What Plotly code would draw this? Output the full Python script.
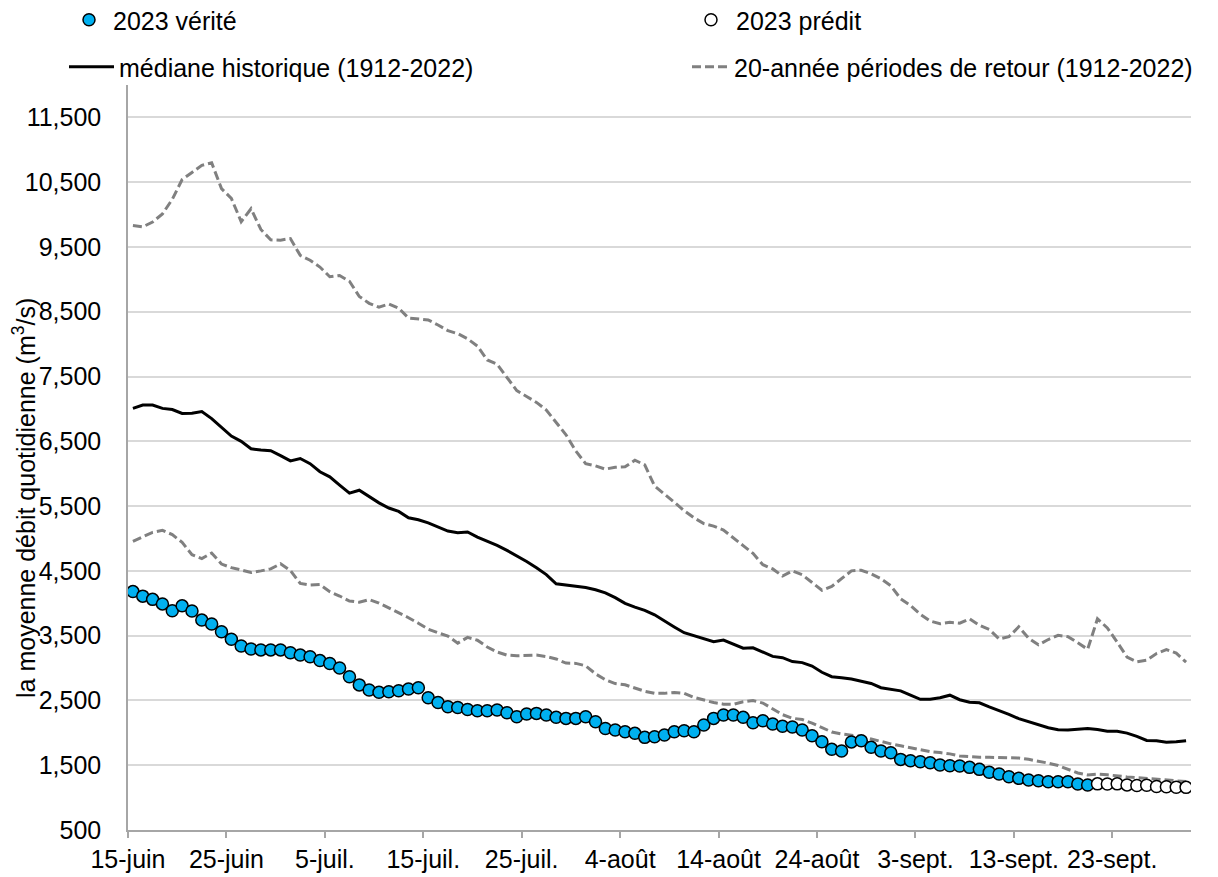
import pandas as pd
import plotly.graph_objects as go

# ---- data ----
dates = pd.date_range("2023-06-15 12:00", periods=108, freq="D")

verite = [4180, 4110, 4060, 3990, 3885, 3960, 3880, 3740, 3680, 3560,
          3445, 3340, 3295, 3280, 3280, 3280, 3235, 3200, 3175, 3115,
          3070, 3000, 2865, 2740, 2660, 2625, 2634, 2650, 2676, 2696,
          2542, 2469, 2402, 2392, 2360, 2340, 2340, 2352, 2310, 2248,
          2290, 2300, 2275, 2239, 2223, 2223, 2248, 2171, 2068, 2043,
          2017, 1992, 1930, 1940, 1966, 2017, 2032, 2017, 2120, 2223,
          2275, 2275, 2239, 2156, 2187, 2136, 2100, 2090, 2043, 1955,
          1863, 1745, 1719, 1860, 1878, 1776, 1719, 1693, 1590, 1570,
          1554, 1539, 1503, 1492, 1488, 1467, 1436, 1390, 1364, 1323,
          1297, 1272, 1261, 1245, 1245, 1245, 1210, 1194]

predit = [1212, 1210, 1212, 1196, 1186, 1192, 1172, 1168, 1160, 1158]

mediane = [7008, 7059, 7059, 7008, 6990, 6930, 6932, 6960, 6850, 6720,
           6580, 6500, 6385, 6364, 6355, 6280, 6197, 6235, 6155, 6030,
           5952, 5825, 5700, 5745, 5650, 5550, 5470, 5418, 5320, 5288,
           5240, 5180, 5115, 5090, 5100, 5020, 4960, 4893, 4817, 4735,
           4645, 4548, 4442, 4300, 4282, 4271, 4242, 4208, 4160, 4087,
           3998, 3940, 3890, 3822, 3722, 3635, 3545, 3499, 3454, 3407,
           3432, 3371, 3306, 3313, 3246, 3180, 3160, 3100, 3084, 3030,
           2935, 2867, 2851, 2830, 2797, 2762, 2696, 2672, 2648, 2582,
           2517, 2517, 2541, 2581, 2511, 2472, 2464, 2400, 2347, 2285,
           2219, 2169, 2128, 2079, 2049, 2043, 2054, 2066, 2051, 2025,
           2024, 1995, 1944, 1882, 1878, 1855, 1862, 1878]

retour_haut = [9830, 9810, 9885, 10010, 10235, 10540, 10650, 10760, 10800, 10400,
               10250, 9890, 10090, 9770, 9610, 9605, 9630, 9370, 9295, 9190,
               9040, 9060, 8970, 8735, 8630, 8570, 8620, 8555, 8403, 8394,
               8374, 8295, 8208, 8162, 8083, 7970, 7755, 7690, 7490, 7282,
               7192, 7100, 6983, 6800, 6600, 6350, 6155, 6120, 6070, 6100,
               6107, 6208, 6136, 5810, 5690, 5560, 5430, 5320, 5230, 5190,
               5130, 5015, 4890, 4770, 4595, 4530, 4420, 4500, 4440, 4320,
               4200, 4260, 4385, 4500, 4510, 4455, 4378, 4270, 4070, 3965,
               3830, 3725, 3683, 3705, 3692, 3760, 3660, 3595, 3450, 3483,
               3637, 3460, 3358, 3440, 3505, 3485, 3390, 3290, 3760, 3620,
               3400, 3170, 3095, 3120, 3225, 3285, 3230, 3090]

retour_bas = [4955, 5025, 5095, 5125, 5060, 4940, 4750, 4690, 4775, 4605,
              4550, 4515, 4474, 4500, 4530, 4610, 4505, 4306, 4281, 4290,
              4178, 4112, 4035, 4015, 4057, 4003, 3929, 3852, 3777, 3692,
              3600, 3544, 3493, 3385, 3473, 3430, 3325, 3248, 3200, 3190,
              3200, 3200, 3176, 3140, 3076, 3072, 3035, 2910, 2820, 2760,
              2741, 2690, 2642, 2609, 2609, 2623, 2610, 2548, 2505, 2467,
              2443, 2440, 2479, 2498, 2460, 2374, 2280, 2225, 2205, 2150,
              2080, 2013, 1982, 1960, 1944, 1905, 1862, 1830, 1800, 1770,
              1740, 1710, 1695, 1675, 1642, 1628, 1622, 1622, 1622, 1622,
              1612, 1591, 1565, 1532, 1495, 1440, 1380, 1350, 1361, 1352,
              1333, 1320, 1310, 1300, 1285, 1272, 1260, 1247]

tick_dates = ["2023-06-15", "2023-06-25", "2023-07-05", "2023-07-15", "2023-07-25",
              "2023-08-04", "2023-08-14", "2023-08-24", "2023-09-03", "2023-09-13",
              "2023-09-23"]
tick_labels = ["15-juin", "25-juin", "5-juil.", "15-juil.", "25-juil.", "4-août",
               "14-août", "24-août", "3-sept.", "13-sept.", "23-sept."]
y_ticks = [500, 1500, 2500, 3500, 4500, 5500, 6500, 7500, 8500, 9500, 10500, 11500]

# ---- styling ----
FONT = "Liberation Sans, Arial, sans-serif"
FS = 25
BLUE = "#00B0F0"
GRAY = "#808080"

n_v = len(verite)
fig = go.Figure()

fig.add_trace(go.Scatter(
    x=dates, y=mediane, mode="lines", name="médiane historique (1912-2022)",
    line=dict(color="black", width=3), legend="legend2"))
fig.add_trace(go.Scatter(
    x=dates, y=retour_haut, mode="lines", name="20-année périodes de retour (1912-2022)",
    line=dict(color=GRAY, width=3, dash="9px,4px"), legend="legend4",
    legendgroup="retour"))
fig.add_trace(go.Scatter(
    x=dates, y=retour_bas, mode="lines", name="20-année périodes de retour (1912-2022)",
    line=dict(color=GRAY, width=3, dash="9px,4px"), legend="legend4",
    legendgroup="retour", showlegend=False))
fig.add_trace(go.Scatter(
    x=dates[:n_v], y=verite, mode="markers", name="2023 vérité",
    marker=dict(size=12, color=BLUE, line=dict(color="black", width=1.5)),
    legend="legend"))
fig.add_trace(go.Scatter(
    x=dates[n_v:], y=predit, mode="markers", name="2023 prédit",
    marker=dict(size=12, color="white", line=dict(color="black", width=1.5)),
    legend="legend3"))

# page body has an 8px margin: the figure starts at (8, 8) in the window
OFF = 8
W, H = 1218 - OFF, 877 - OFF
PL, PT = 128 - OFF, 85 - OFF
PR = 1218 - 1191
PB = 877 - 830
pw, ph = W - PL - PR, H - PT - PB


def px_x(px):
    return (px - OFF - PL) / pw


def px_y(py):
    return (H - PB - (py - OFF)) / ph


leg_common = dict(xanchor="left", yanchor="middle", bgcolor="rgba(0,0,0,0)",
                  borderwidth=0, font=dict(family=FONT, size=FS, color="black"))

fig.update_layout(
    width=W, height=H,
    margin=dict(l=PL, r=PR, t=PT, b=PB, autoexpand=False),
    plot_bgcolor="white", paper_bgcolor="white",
    font=dict(family=FONT, size=FS, color="black"),
    legend=dict(x=px_x(65), y=px_y(20), itemwidth=38, **leg_common),
    legend2=dict(x=px_x(64), y=px_y(67), itemwidth=45, **leg_common),
    legend3=dict(x=px_x(686), y=px_y(20), itemwidth=40, **leg_common),
    legend4=dict(x=px_x(687), y=px_y(67), itemwidth=37, **leg_common),
    xaxis=dict(
        range=["2023-06-15", "2023-10-01"],
        tickvals=tick_dates, ticktext=tick_labels,
        ticks="outside", ticklen=6, tickwidth=1.5, tickcolor="#a6a6a6",
        showline=True, linecolor="#a6a6a6", linewidth=1.5,
        showgrid=False, zeroline=False,
        tickfont=dict(family=FONT, size=FS, color="black"),
    ),
    yaxis=dict(
        range=[500, 12000], tickvals=y_ticks, tickformat=",",
        showline=True, linecolor="#a6a6a6", linewidth=1.5,
        showgrid=True, gridcolor="#d9d9d9", gridwidth=1.5,
        zeroline=False, ticks="", ticklabelstandoff=20,
        tickfont=dict(family=FONT, size=FS, color="black"),
    ),
    showlegend=True,
)

fig.add_annotation(
    text="la moyenne débit quotidienne (m<sup>3</sup>/s)",
    xref="paper", yref="paper", x=px_x(24), y=px_y(498),
    xanchor="center", yanchor="middle", textangle=-90, showarrow=False,
    font=dict(family=FONT, size=FS, color="black"))

fig.write_html("out.html")
